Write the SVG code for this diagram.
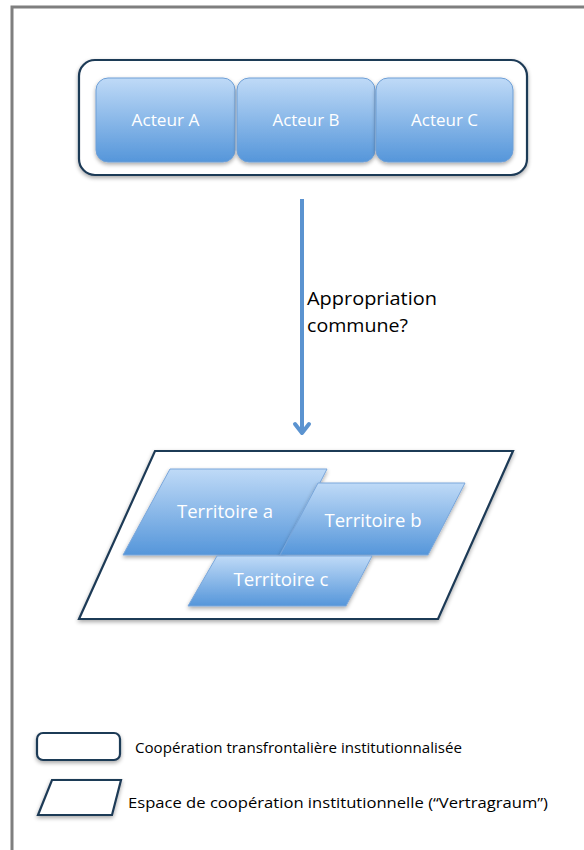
<svg xmlns="http://www.w3.org/2000/svg" width="584" height="850" viewBox="0 0 584 850">
<style>
  .frame{fill:none;stroke:#7f7f7f;stroke-width:3}
  .outline{fill:#fff;stroke:#1f3a57;stroke-width:2.2}
  .actor{fill:url(#blue);stroke:#6e9fd6;stroke-width:1}
  .terr{fill:url(#blue);stroke:#7aa7db;stroke-width:1}
  .wt{font-family:"Open Sans",Lato,sans-serif;fill:#fff;text-anchor:middle}
  .bt{font-family:"Open Sans",Lato,sans-serif;fill:#000}
</style>
<defs>
  <linearGradient id="blue" x1="0" y1="0" x2="0" y2="1">
    <stop offset="0" stop-color="#bfdaf7"/>
    <stop offset="1" stop-color="#5596da"/>
  </linearGradient>
  <filter id="sh" x="-10%" y="-10%" width="130%" height="140%">
    <feGaussianBlur in="SourceAlpha" stdDeviation="2"/>
    <feOffset dx="0" dy="2" result="b"/>
    <feComponentTransfer><feFuncA type="linear" slope="0.35"/></feComponentTransfer>
    <feMerge><feMergeNode/><feMergeNode in="SourceGraphic"/></feMerge>
  </filter>
</defs>
<path class="frame" d="M12,860 V7 H600"/>
<g id="cooperation">
  <rect class="outline" x="79" y="60" width="448" height="115" rx="16" filter="url(#sh)"/>
</g>
<g id="acteurA">
  <rect class="actor" x="96" y="78" width="139" height="84" rx="12" filter="url(#sh)"/>
  <text class="wt" x="165.5" y="126" font-size="16" textLength="68" lengthAdjust="spacingAndGlyphs">Acteur A</text>
</g>
<g id="acteurB">
  <rect class="actor" x="237" y="78" width="138" height="84" rx="12" filter="url(#sh)"/>
  <text class="wt" x="306" y="126" font-size="16" textLength="67" lengthAdjust="spacingAndGlyphs">Acteur B</text>
</g>
<g id="acteurC">
  <rect class="actor" x="376" y="78" width="137" height="84" rx="12" filter="url(#sh)"/>
  <text class="wt" x="444.5" y="126" font-size="16" textLength="67" lengthAdjust="spacingAndGlyphs">Acteur C</text>
</g>
<g id="connectors">
  <line x1="302" y1="199" x2="302" y2="431" stroke="#5b93d0" stroke-width="4"/>
  <path d="M295,424 L302,433 L309,424" fill="none" stroke="#5b93d0" stroke-width="4" stroke-linecap="round" stroke-linejoin="round"/>
  <text class="bt" x="307" y="305" font-size="18" textLength="130" lengthAdjust="spacingAndGlyphs">Appropriation</text>
  <text class="bt" x="307" y="332" font-size="18" textLength="101" lengthAdjust="spacingAndGlyphs">commune?</text>
</g>
<g id="vertragraum">
  <polygon class="outline" points="155,451 513,451 438,619 79,619" filter="url(#sh)"/>
</g>
<g id="territoireA">
  <polygon class="terr" points="170,469 327,469 283,555 123,555" filter="url(#sh)"/>
  <text class="wt" x="225" y="518" font-size="17.5" textLength="96" lengthAdjust="spacingAndGlyphs">Territoire a</text>
</g>
<g id="territoireB">
  <polygon class="terr" points="318,483 465,483 428,555 280,555" filter="url(#sh)"/>
  <text class="wt" x="373" y="527" font-size="17.5" textLength="97" lengthAdjust="spacingAndGlyphs">Territoire b</text>
</g>
<g id="territoireC">
  <polygon class="terr" points="217,556 372,556 346,606 188,606" filter="url(#sh)"/>
  <text class="wt" x="281" y="586" font-size="17.5" textLength="95" lengthAdjust="spacingAndGlyphs">Territoire c</text>
</g>
<g id="legend1">
  <rect class="outline" x="37" y="733" width="83" height="27" rx="6" filter="url(#sh)"/>
  <text class="bt" x="135" y="753" font-size="14" textLength="327" lengthAdjust="spacingAndGlyphs">Coopération transfrontalière institutionnalisée</text>
</g>
<g id="legend2">
  <polygon class="outline" points="52,780 121,780 112,815 38,815" filter="url(#sh)"/>
  <text class="bt" x="128" y="808" font-size="14" textLength="420" lengthAdjust="spacingAndGlyphs">Espace de coopération institutionnelle (“Vertragraum”)</text>
</g>
</svg>
